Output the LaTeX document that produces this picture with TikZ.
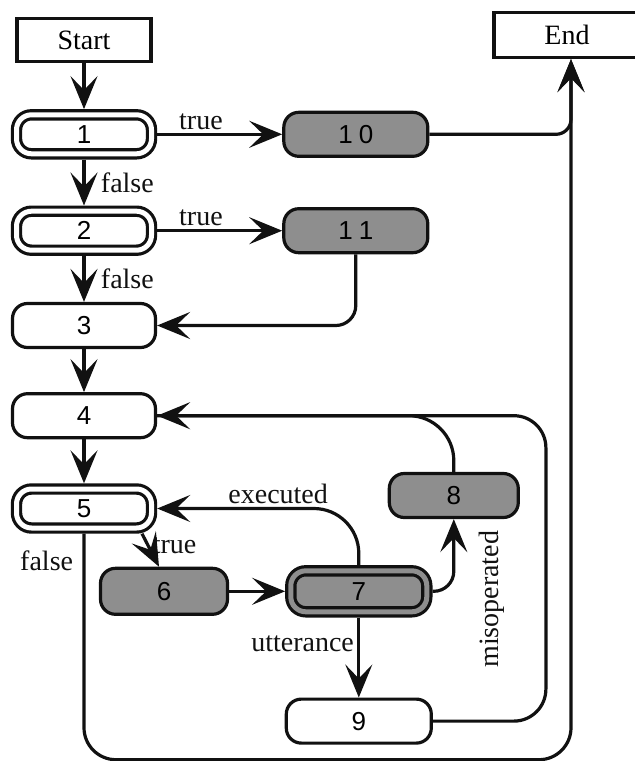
\documentclass[tikz,border=0pt]{standalone}
\usepackage{fontspec}
\setmainfont{Liberation Serif}
\setsansfont{Liberation Sans}
\usetikzlibrary{arrows.meta,positioning}
\definecolor{ink}{HTML}{111111}
\definecolor{dots}{HTML}{8E8E8E}
\tikzset{
  term/.style={draw=ink, line width=3.2pt, minimum width=134pt, minimum height=43pt, inner sep=0pt, font=\fontsize{28}{30}\selectfont},
  state/.style={draw=ink, line width=3.2pt, rounded corners=15pt, minimum width=143pt, minimum height=44pt, inner sep=0pt, font=\sffamily\fontsize{26}{28}\selectfont},
  test/.style={state, double=white, double distance=5pt, minimum width=135pt, minimum height=39pt, outer sep=5.7pt},
  act/.style={state, fill=dots},
  arrow/.style={-{Stealth[length=33pt, width=27pt, inset=14pt]}, line width=3.2pt, draw=ink},
  line/.style={line width=3.2pt, draw=ink},
  lbl/.style={font=\fontsize{28}{30}\selectfont, text=ink}
}

\begin{document}
\begin{tikzpicture}[x=1pt, y=1pt, node distance=46pt]
  \useasboundingbox (0,0) rectangle (635,-761);
  \node[term] (start) at (84,-40) {Start};
  \node[term, minimum width=160pt, minimum height=45pt] (end) at (574,-35) {\hspace*{-14pt}End};
  \node[test, below=of start] (c1) {1};
  \node[test, below=of c1] (c2) {2};
  \node[state, below=of c2] (c3) {3};
  \node[state, below=43pt of c3] (c4) {4};
  \node[test, below=44pt of c4] (c5) {5};
  \node[act, below=33pt of c5, xshift=80pt, minimum width=127pt, minimum height=46pt] (c6) {6};
  \node[test, fill=dots, double=dots, minimum width=136pt, minimum height=41pt, right=56pt of c6] (c7) {7};
  \node[act, above=46pt of c7, xshift=95pt, minimum width=129pt] (c8) {8};
  \node[state, below=80pt of c7, minimum width=145pt] (c9) {9};
  \node[act, right=125pt of c1, minimum width=144pt] (c10) {1\kern6pt0};
  \node[act, right=125pt of c2, minimum width=144pt] (c11) {1\kern6pt1};

  \draw[arrow] (start) -- (c1);
  \draw[arrow] (c1) -- node[lbl, right=12pt] {false} (c2);
  \draw[arrow] (c2) -- node[lbl, right=12pt] {false} (c3);
  \draw[arrow] (c3) -- (c4);
  \draw[arrow] (c4) -- (c5);
  \draw[arrow] (c1) -- node[lbl, above, pos=.35] {true} (c10);
  \draw[arrow] (c2) -- node[lbl, above, pos=.35] {true} (c11);
  \draw[arrow, rounded corners=15pt] (c10) -| ([xshift=-3pt]end.south);
  \draw[arrow, rounded corners=20pt] (c11) |- (c3);
  \draw[arrow] ([xshift=58pt]c5.south) -- node[lbl, right, pos=.35] {true} ([xshift=-5pt]c6.north);
  \draw[arrow] (c6) -- (c7);
  \draw[arrow] (c7) -- node[lbl, left, pos=.33] {utterance} (c9);
  \draw[arrow, rounded corners=45pt] (c7) |- node[lbl, above, pos=.7] {executed} (c5);
  \draw[arrow, rounded corners=20pt] (c7) -| node[lbl, pos=.5, rotate=90, anchor=north, xshift=-8pt, yshift=-20pt] {misoperated} (c8);
  \draw[arrow, rounded corners=32pt] (c9.east) -- ++(113,0) |- (c4);
  \draw[line, rounded corners=45pt] (c8) |- (c4);
  \draw[arrow, rounded corners=32pt] (c5) -- node[lbl, left=6pt, pos=.12] {false} ([yshift=-226pt]c5.south) -| ([xshift=-3pt]end.south);
\end{tikzpicture}
\end{document}
